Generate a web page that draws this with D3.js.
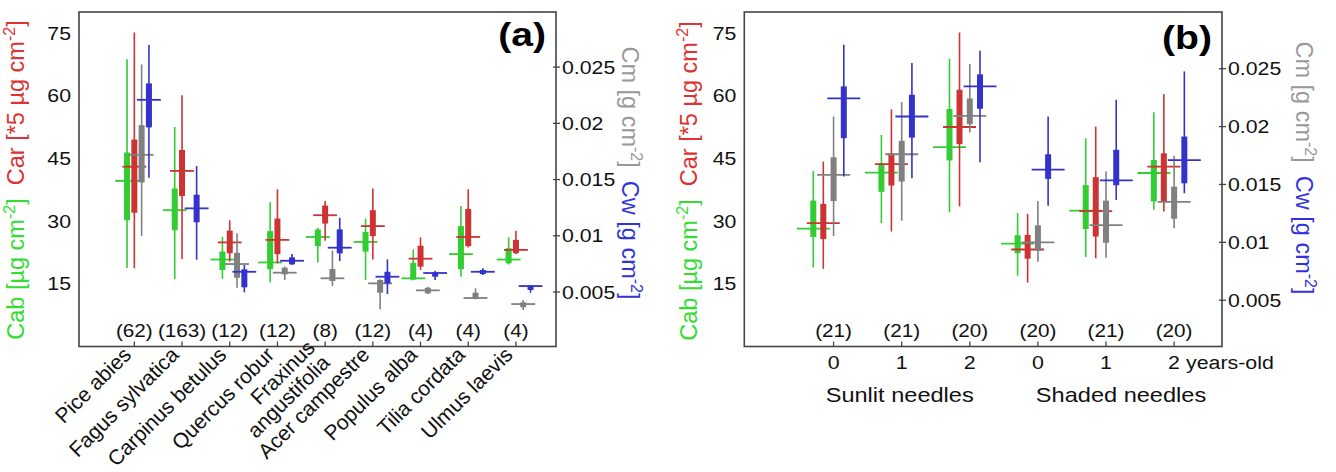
<!DOCTYPE html>
<html>
<head>
<meta charset="utf-8">
<script src="https://cdn.jsdelivr.net/npm/d3@7"></script>
<style>
  html, body { margin: 0; padding: 0; background: #fff; }
  svg { display: block; }
</style>
</head>
<body>
<svg id="chart" width="1336" height="472"></svg>
<script>
// ---------------- DATA ----------------
// each entry: [whisker low, box low, centre line, box high, whisker high]
const speciesA = ["Pice abies", "Fagus sylvatica", "Carpinus betulus", "Quercus robur",
  "Fraxinus\nangustifolia", "Acer campestre", "Populus alba", "Tilia cordata", "Ulmus laevis"];
const countsA = ["(62)", "(163)", "(12)", "(12)", "(8)", "(12)", "(4)", "(4)", "(4)"];

const cabA = [
  [18.8, 30.2, 39.6, 46.4, 68.7], [16.1, 27.8, 32.6, 37.8, 52.5], [16.2, 18.3, 20.8, 22.7, 26.2],
  [15.3, 18.5, 20.1, 27.6, 34.5], [20.1, 24.0, 26.2, 28.0, 28.4], [15.9, 22.7, 25.0, 27.4, 30.6],
  [15.8, 16.0, 16.3, 20.0, 23.2], [16.7, 18.5, 22.1, 28.8, 33.6], [19.6, 19.9, 20.8, 23.5, 26.1]];
const carA = [
  [18.7, 32.0, 43.0, 49.5, 75.1], [20.9, 36.0, 42.0, 47.0, 60.1], [20.3, 22.3, 24.9, 27.7, 30.2],
  [19.9, 22.1, 25.5, 30.6, 37.6], [25.3, 29.4, 31.4, 33.7, 34.8], [20.8, 26.4, 28.8, 32.6, 37.8],
  [18.3, 19.1, 21.0, 24.1, 26.1], [23.7, 24.0, 26.2, 32.9, 37.6], [22.1, 22.3, 23.1, 25.5, 27.7]];
const cmA = [
  [0.0100, 0.01475, 0.0172, 0.01984, 0.02524], null, [0.00538, 0.00627, 0.00749, 0.00849, 0.01022],
  [0.00607, 0.00657, 0.00672, 0.00716, 0.00727], [0.00553, 0.00598, 0.00622, 0.00704, 0.00868],
  [0.00346, 0.00494, 0.00577, 0.00607, 0.00613], [0.00482, 0.00488, 0.00515, 0.00538, 0.00545],
  [0.00435, 0.00438, 0.00447, 0.00494, 0.00533], [0.0034, 0.00364, 0.00393, 0.00408, 0.00429]];
const cwA = [
  [0.01516, 0.01964, 0.02209, 0.02355, 0.02696], [0.00787, 0.0112, 0.01244, 0.01365, 0.0162],
  [0.00497, 0.00542, 0.0068, 0.00702, 0.0074], [0.0074, 0.00746, 0.00778, 0.00808, 0.00838],
  [0.00776, 0.00844, 0.00894, 0.01057, 0.0116], [0.00482, 0.00577, 0.00636, 0.0068, 0.0079],
  [0.00607, 0.00636, 0.00669, 0.00675, 0.0069], [0.00651, 0.0066, 0.0068, 0.00696, 0.00711],
  [0.00494, 0.00518, 0.00553, 0.00556, 0.00562]];

const ageB = ["0", "1", "2", "0", "1", "2"];
const countsB = ["(21)", "(21)", "(20)", "(20)", "(21)", "(20)"];
const groupB = ["Sunlit needles", "Shaded needles"];
const cabB = [
  [18.9, 26.2, 28.2, 34.9, 42.0], [29.5, 37.0, 41.6, 43.8, 50.6], [32.1, 44.5, 47.7, 56.8, 68.8],
  [16.9, 22.3, 24.6, 26.6, 31.9], [21.4, 28.1, 32.5, 38.6, 49.8], [32.7, 34.7, 41.5, 44.6, 56.0]];
const carB = [
  [18.6, 25.7, 29.5, 34.1, 44.2], [27.5, 38.5, 43.6, 46.2, 56.7], [33.5, 48.4, 52.5, 61.4, 75.1],
  [15.3, 21.0, 23.2, 26.7, 31.7], [21.1, 26.3, 32.4, 40.5, 52.6], [32.3, 34.7, 43.0, 46.2, 60.4]];
const cmB = [
  [0.01054, 0.01357, 0.01582, 0.01735, 0.02087], [0.01187, 0.01525, 0.01761, 0.01877, 0.02212],
  [0.01949, 0.02021, 0.02093, 0.02243, 0.02541], [0.00832, 0.00927, 0.0100, 0.01147, 0.01357],
  [0.00866, 0.00996, 0.01149, 0.0136, 0.01611], [0.01121, 0.01204, 0.01349, 0.01481, 0.01747]];
const cwB = [
  [0.01568, 0.019, 0.02243, 0.02347, 0.02708], [0.01553, 0.01905, 0.02087, 0.02275, 0.02549],
  [0.01692, 0.02154, 0.02347, 0.02451, 0.02656], [0.01317, 0.01548, 0.01628, 0.01761, 0.02087],
  [0.01366, 0.01493, 0.01536, 0.01799, 0.02232], [0.01424, 0.0151, 0.0171, 0.01914, 0.02477]];

const leftTicks = [15, 30, 45, 60, 75];
const rightTicks = [0.005, 0.01, 0.015, 0.02, 0.025];
const rightTickLabels = ["0.005", "0.01", "0.015", "0.02", "0.025"];

// ---------------- STYLE ----------------
const FONT = "'Liberation Sans', Arial, Helvetica, sans-serif";
const SX = 1.15;   // horizontal stretch of the original figure's lettering
const markColors = { cab: "#33cc33", car: "#cc3333", cm: "#808080", cw: "#3333cc" };
const titleColors = { cab: "#33dd33", car: "#dd3333", cm: "#999999", cw: "#3333dd" };
const svg = d3.select("#chart");

function htext(g, x, y, str, size, anchor, opts = {}) {
  return g.append("text")
    .attr("transform", `translate(${x},${y}) scale(${SX},1)`)
    .attr("text-anchor", anchor || "start")
    .attr("dy", opts.dy || null)
    .attr("font-family", FONT).attr("font-size", size)
    .attr("font-weight", opts.bold ? "bold" : null)
    .attr("fill", opts.fill || "#111")
    .text(str);
}

function drawPanel(cfg) {
  const g = svg.append("g");
  const { x, yL, yR } = cfg;
  const [x0, x1] = x.range();
  const [yb, yt] = yL.range();

  const series = [
    { key: "cab", data: cfg.cab, y: yL, off: cfg.offsets[0] },
    { key: "car", data: cfg.car, y: yL, off: cfg.offsets[1] },
    { key: "cm", data: cfg.cm, y: yR, off: cfg.offsets[2] },
    { key: "cw", data: cfg.cw, y: yR, off: cfg.offsets[3] }
  ];

  series.forEach(s => {
    const items = s.data.map((d, i) => ({ d, i })).filter(o => o.d);
    const sg = g.append("g").attr("fill", markColors[s.key]).attr("stroke", markColors[s.key]);
    sg.selectAll("line.wh").data(items).join("line")
      .attr("x1", o => x(o.i + s.off)).attr("x2", o => x(o.i + s.off))
      .attr("y1", o => s.y(o.d[0])).attr("y2", o => s.y(o.d[4]))
      .attr("stroke-width", 1.6);
    sg.selectAll("rect").data(items).join("rect")
      .attr("x", o => x(o.i + s.off) - cfg.boxW / 2).attr("width", cfg.boxW)
      .attr("y", o => s.y(o.d[3])).attr("height", o => s.y(o.d[1]) - s.y(o.d[3]))
      .attr("stroke", "none");
    sg.selectAll("line.mid").data(items).join("line")
      .attr("x1", o => x(o.i + s.off - cfg.halfW)).attr("x2", o => x(o.i + s.off + cfg.halfW))
      .attr("y1", o => s.y(o.d[2])).attr("y2", o => s.y(o.d[2]))
      .attr("stroke-width", 1.8);
  });

  // frame
  g.append("rect").attr("x", x0).attr("y", yt).attr("width", x1 - x0).attr("height", yb - yt)
    .attr("fill", "none").attr("stroke", "#444").attr("stroke-width", 1.6);

  // left tick labels
  leftTicks.forEach(d => htext(g, x0 - 8, yL(d), d, 18.5, "end", { dy: "0.36em" }));

  // right ticks + labels
  g.selectAll("line.yr").data(rightTicks).join("line")
    .attr("x1", x1 - 3).attr("x2", x1 + 4).attr("y1", d => yR(d)).attr("y2", d => yR(d))
    .attr("stroke", "#444").attr("stroke-width", 1.3);
  rightTicks.forEach((d, i) => htext(g, x1 + 6, yR(d), rightTickLabels[i], 18.5, "start", { dy: "0.36em" }));

  // bottom inward ticks + counts
  const idx = cfg.counts.map((c, i) => i);
  g.selectAll("line.xt").data(idx).join("line")
    .attr("x1", i => x(i)).attr("x2", i => x(i)).attr("y1", yb).attr("y2", yb - 5)
    .attr("stroke", "#444").attr("stroke-width", 1.3);
  idx.forEach(i => htext(g, x(i), yb - 10, cfg.counts[i], 18, "middle"));

  // panel letter
  htext(g, x1 - 10, cfg.letterY, cfg.letter, 34, "end", { bold: true, fill: "#000" });

  // left title (rotated -90): Cab ... Car ...
  const lt = g.append("text").attr("font-family", FONT).attr("font-size", 23.5)
    .attr("text-anchor", "middle")
    .attr("transform", `translate(${cfg.leftTitleX},${cfg.leftTitleY}) rotate(-90)`);
  unitText(lt, "Cab [µg cm", titleColors.cab);
  unitText(lt, "Car [*5 µg cm", titleColors.car, true);

  const rt = g.append("text").attr("font-family", FONT).attr("font-size", 23.5)
    .attr("text-anchor", "middle")
    .attr("transform", `translate(${cfg.rightTitleX},${cfg.rightTitleY}) rotate(90)`);
  unitText(rt, "Cm [g cm", titleColors.cm);
  unitText(rt, "Cw [g cm", titleColors.cw, true);
  return g;
}

function unitText(t, main, color, gap) {
  t.append("tspan").attr("fill", color).text((gap ? "\u00a0\u00a0" : "") + main);
  t.append("tspan").attr("fill", color).attr("font-size", 16).attr("dy", -9).text("-2");
  t.append("tspan").attr("fill", color).attr("dy", 9).text("]");
}

// ---------------- PANEL A ----------------
const xA = d3.scaleLinear().domain([-1.16, 8.84]).range([79, 556]);
const yLA = d3.scaleLinear().domain([0, 80]).range([346.5, 12]);
const yRA = d3.scaleLinear().domain([0.0002, 0.0299]).range([346, 12]);
const gA = drawPanel({
  x: xA, yL: yLA, yR: yRA, cab: cabA, car: carA, cm: cmA, cw: cwA,
  offsets: [-0.153, 0, 0.153, 0.306], halfW: 0.25, boxW: 6,
  counts: countsA, letter: "(a)", letterY: 46,
  leftTitleX: 24, leftTitleY: 180, rightTitleX: 622, rightTitleY: 173
});
// rotated species labels (each line right-aligned at its own anchor)
speciesA.forEach((name, i) => {
  const lines = name.split("\n");
  lines.forEach((ln, k) => {
    const dx = lines.length > 1 ? -9 + 15 * k : -2;
    const dy = lines.length > 1 ? -7 + 15 * k : 0;
    gA.append("text").attr("font-family", FONT).attr("font-size", 21).attr("fill", "#111")
      .attr("text-anchor", "end")
      .attr("transform", `translate(${xA(i) + dx},${356 + dy}) rotate(-45)`)
      .text(ln);
  });
});

// ---------------- PANEL B ----------------
const xB = d3.scaleLinear().domain([-1.311, 5.703]).range([744.3, 1222]);
const yLB = d3.scaleLinear().domain([0, 80]).range([346.5, 12]);
const yRB = d3.scaleLinear().domain([0.001, 0.0299]).range([346.5, 12]);
const gB = drawPanel({
  x: xB, yL: yLB, yR: yRB, cab: cabB, car: carB, cm: cmB, cw: cwB,
  offsets: [-0.298, -0.151, 0, 0.15], halfW: 0.242, boxW: 6,
  counts: countsB, letter: "(b)", letterY: 49,
  leftTitleX: 697, leftTitleY: 181, rightTitleX: 1296, rightTitleY: 168
});
ageB.forEach((a, i) => {
  const last = i === ageB.length - 1;
  htext(gB, last ? xB(i) - 6 : xB(i), 369, last ? a + " years-old" : a, 18.6, last ? "start" : "middle");
});
groupB.forEach((gname, k) => {
  htext(gB, xB(3 * k + 1) + (k === 0 ? -2 : 15), 402, gname, 20.5, "middle");
});
</script>
</body>
</html>
